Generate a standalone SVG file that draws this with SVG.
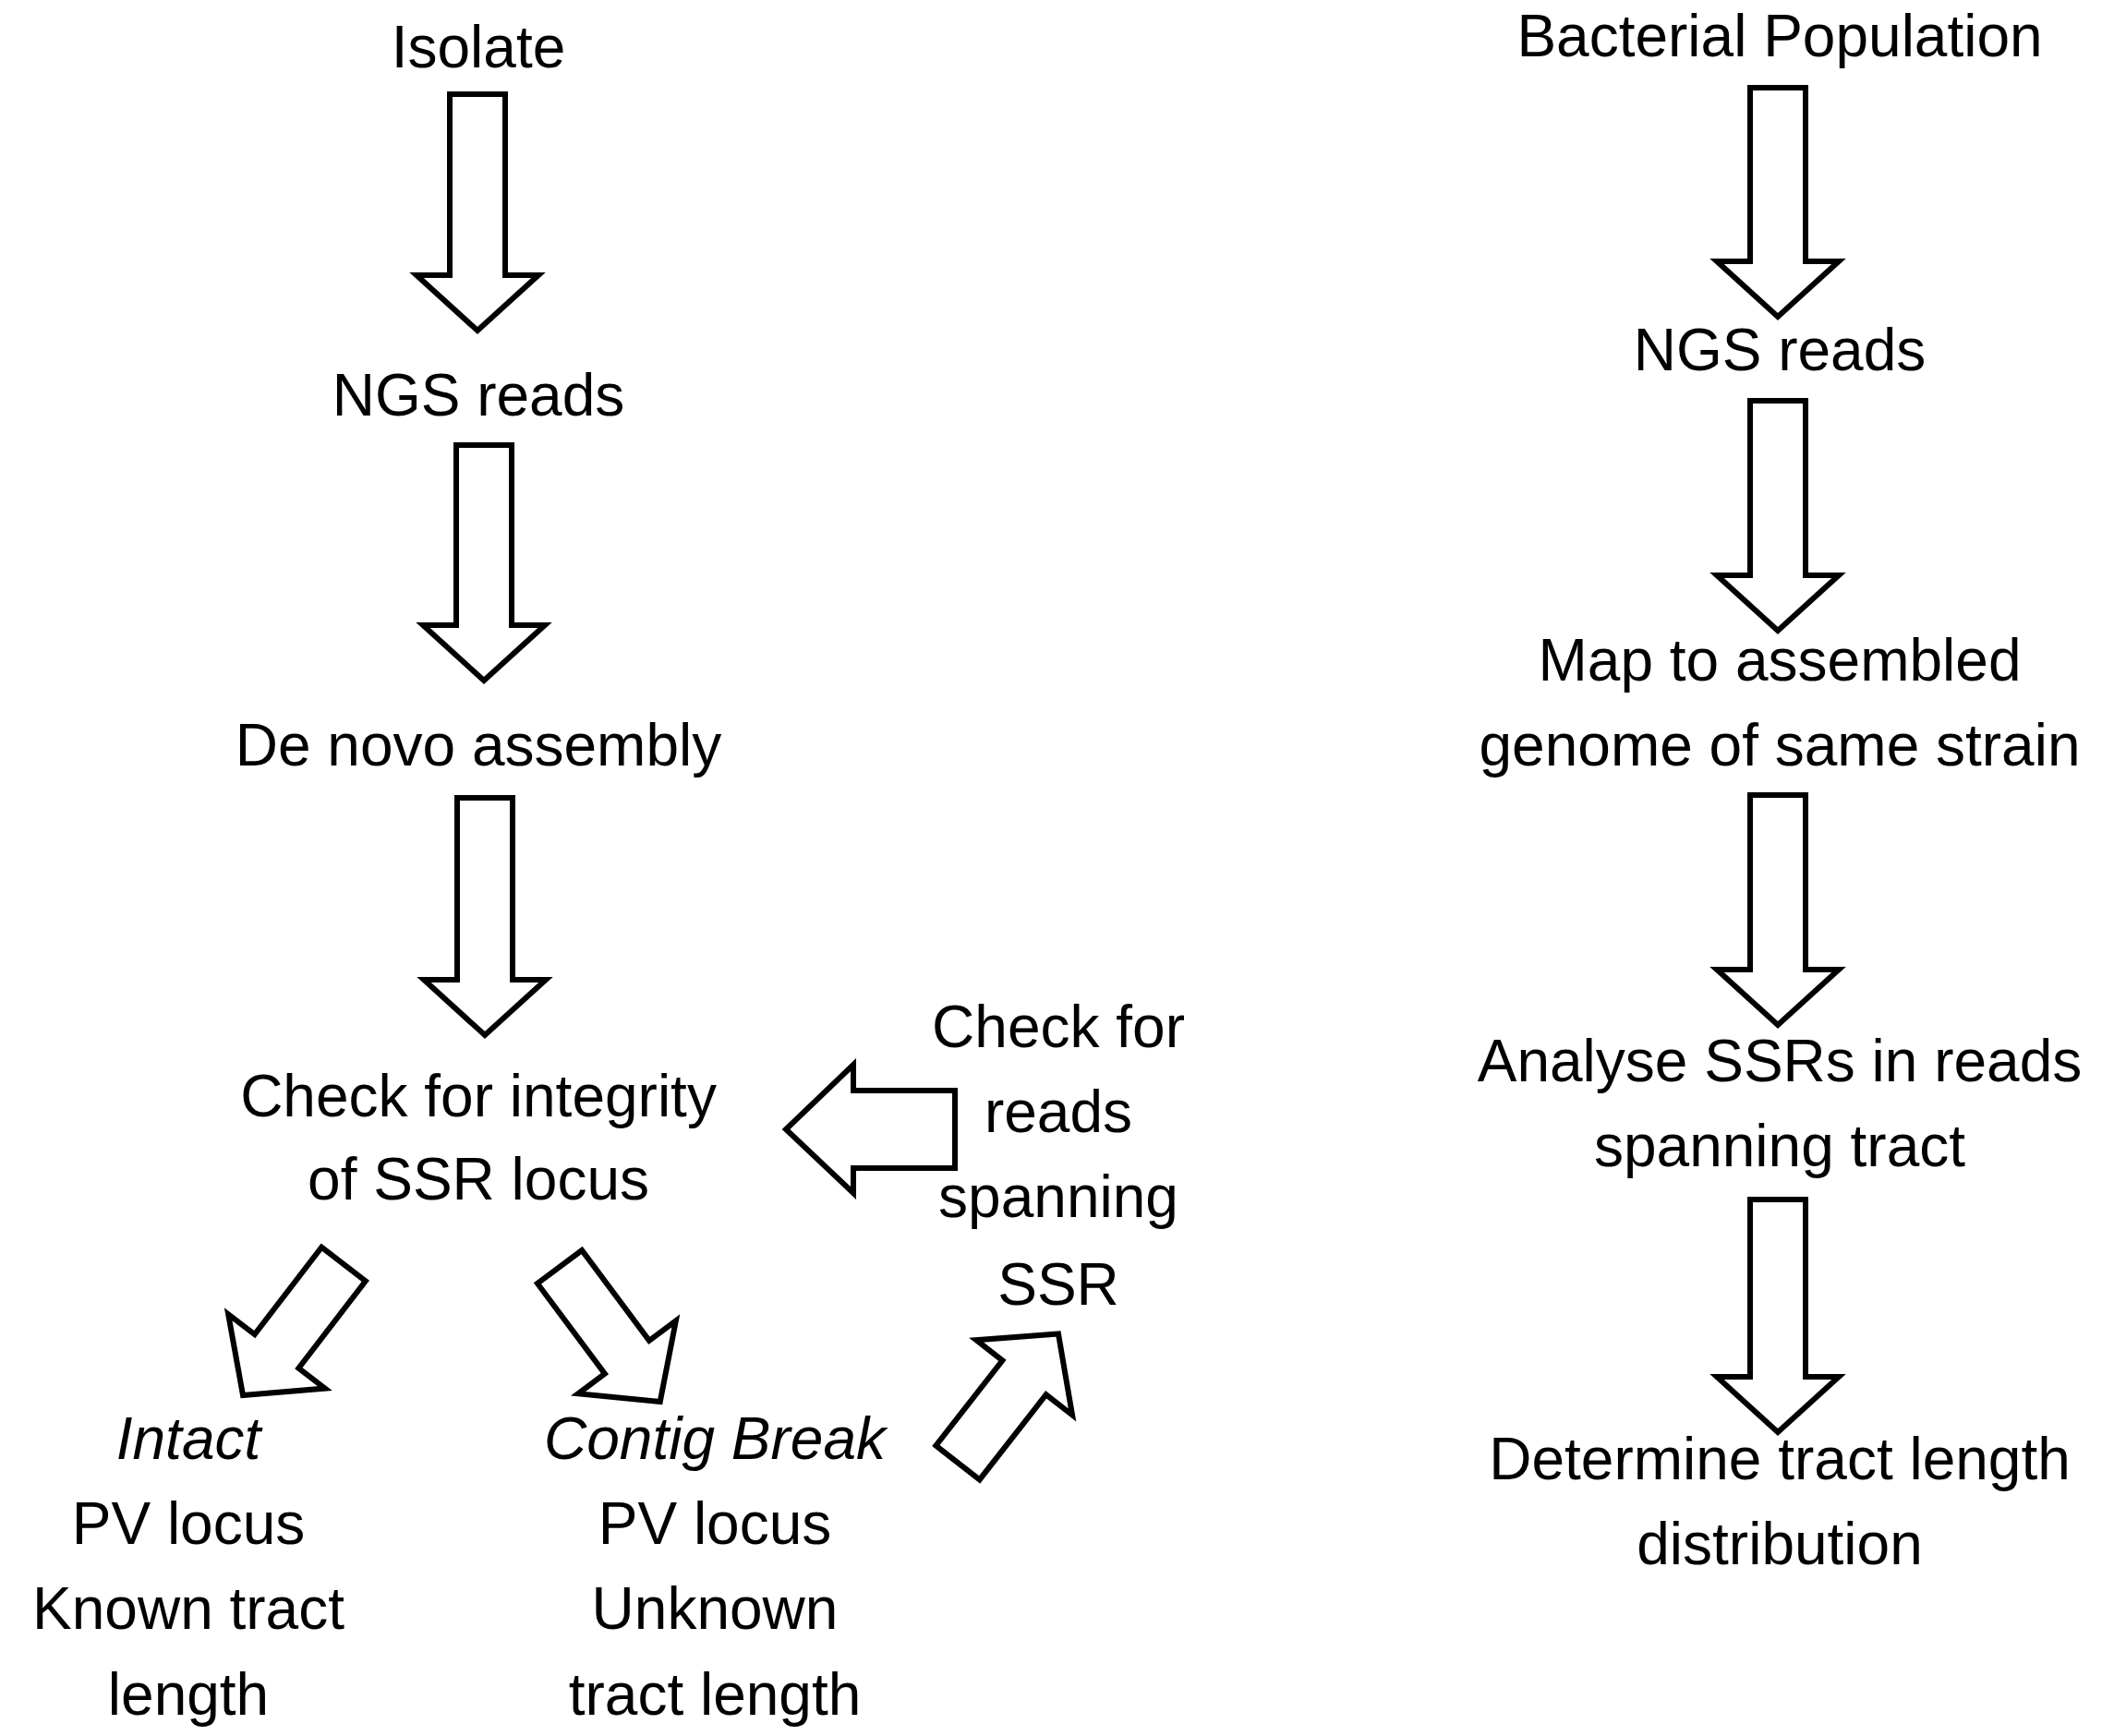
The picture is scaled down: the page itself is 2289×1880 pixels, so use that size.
<svg xmlns="http://www.w3.org/2000/svg" width="2289" height="1880" viewBox="0 0 2289 1880">
<style>
text{font-family:"Liberation Sans",Arial,sans-serif;font-size:64px;fill:#000;text-anchor:middle}
.i{font-style:italic}
.a{fill:#fff;stroke:#000;stroke-width:6;stroke-linejoin:miter}
</style>
<rect width="2289" height="1880" fill="#fff"/>
<g id="connectors">
<polygon class="a" points="487,102 547,102 547,298 583,298 517,358 451,298 487,298"/>
<polygon class="a" points="494,482 554,482 554,677 590,677 524,737 458,677 494,677"/>
<polygon class="a" points="495,864 555,864 555,1061 591,1061 525,1121 459,1061 495,1061"/>
<polygon class="a" points="1895,95 1955,95 1955,283 1991,283 1925,343 1859,283 1895,283"/>
<polygon class="a" points="1895,434 1955,434 1955,623 1991,623 1925,683 1859,623 1895,623"/>
<polygon class="a" points="1895,861 1955,861 1955,1050 1991,1050 1925,1110 1859,1050 1895,1050"/>
<polygon class="a" points="1895,1299 1955,1299 1955,1491 1991,1491 1925,1551 1859,1491 1895,1491"/>
<polygon class="a" points="1034,1181 924,1181 924,1153 851,1223 924,1292 924,1265 1034,1265"/>
<g transform="translate(372,1369) rotate(37.5)"><polygon class="a" points="-30,0 30,0 30,119 66,119 0,179 -66,119 -30,119"/></g>
<g transform="translate(606,1372) rotate(-36.7)"><polygon class="a" points="-30,0 30,0 30,122 66,122 0,182 -66,122 -30,122"/></g>
<g transform="translate(1037,1584) rotate(218)"><polygon class="a" points="-30,0 30,0 30,117 66,117 0,177 -66,117 -30,117"/></g>
</g>
<g id="isolate"><text x="518" y="73">Isolate</text></g>
<g id="ngs-left"><text x="518" y="450">NGS reads</text></g>
<g id="denovo"><text x="518" y="829">De novo assembly</text></g>
<g id="check"><text x="518" y="1209">Check for integrity</text><text x="518" y="1299">of SSR locus</text></g>
<g id="spanning"><text x="1146" y="1134">Check for</text><text x="1146" y="1226">reads</text><text x="1146" y="1318">spanning</text><text x="1146" y="1413">SSR</text></g>
<g id="intact"><text class="i" x="204" y="1580">Intact</text><text x="204" y="1672">PV locus</text><text x="204" y="1764">Known tract</text><text x="204" y="1857">length</text></g>
<g id="contig"><text class="i" x="774" y="1580">Contig Break</text><text x="774" y="1672">PV locus</text><text x="774" y="1764">Unknown</text><text x="774" y="1857">tract length</text></g>
<g id="population"><text x="1927" y="61">Bacterial Population</text></g>
<g id="ngs-right"><text x="1927" y="401">NGS reads</text></g>
<g id="map"><text x="1927" y="737">Map to assembled</text><text x="1927" y="829">genome of same strain</text></g>
<g id="analyse"><text x="1927" y="1171">Analyse SSRs in reads</text><text x="1927" y="1263">spanning tract</text></g>
<g id="determine"><text x="1927" y="1602">Determine tract length</text><text x="1927" y="1694">distribution</text></g>
</svg>
